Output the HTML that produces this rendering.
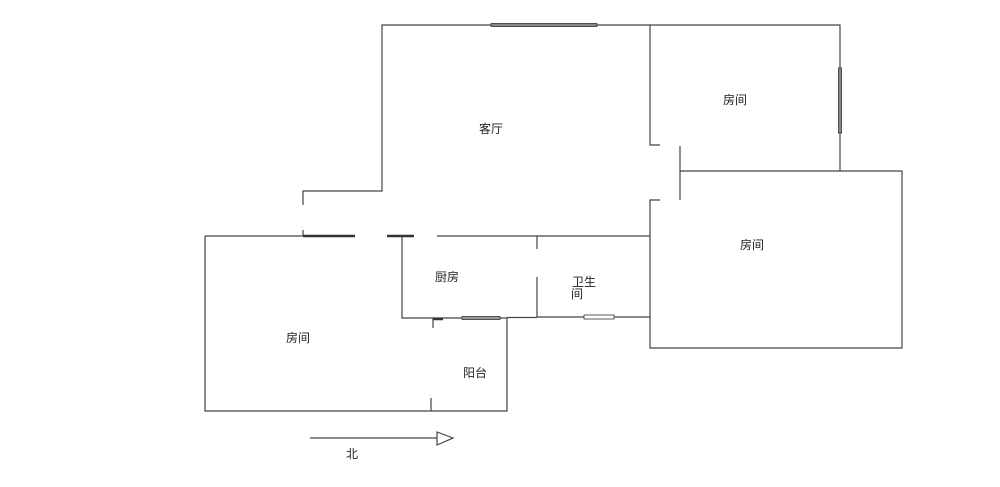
<!DOCTYPE html>
<html><head><meta charset="utf-8"><style>
body{margin:0;background:#fff;width:1000px;height:482px;overflow:hidden}
svg text{font-family:"Liberation Sans","Noto Sans CJK SC",sans-serif;font-size:12px;fill:#222}
</style></head><body>
<svg width="1000" height="482" viewBox="0 0 1000 482">
<g stroke="#444" stroke-width="1.2" fill="none">
<polyline points="303,205 303,191 382,191 382,25 840,25 840,171"/>
<polyline points="650,25 650,145 660,145"/>
<polyline points="680,146 680,200"/>
<polyline points="680,171 902,171 902,348 650,348 650,200 660,200"/>
<line x1="303" y1="230" x2="303" y2="236"/>
<line x1="205" y1="236" x2="303" y2="236"/>
<line x1="437" y1="236" x2="650" y2="236"/>
<polyline points="205,236 205,411 507,411 507,318 402,318 402,236"/>
<line x1="507" y1="317.5" x2="537" y2="317.5"/>
<line x1="431" y1="398" x2="431" y2="411"/>
<line x1="433" y1="318" x2="433" y2="328"/>
<line x1="537" y1="236" x2="537" y2="249"/>
<line x1="537" y1="277" x2="537" y2="317"/>
<line x1="537" y1="317" x2="650" y2="317"/>
<line x1="310" y1="438" x2="437" y2="438"/>
<polygon points="437,432 453,438 437,445"/>
</g>
<g stroke="#333" stroke-width="2.5">
<line x1="303" y1="236" x2="355" y2="236"/>
<line x1="387" y1="236" x2="414" y2="236"/>
<line x1="433" y1="319" x2="443" y2="319"/>
</g>
<rect x="491" y="23.5" width="106" height="3" fill="#888" stroke="#333" stroke-width="0.8"/>
<rect x="838.5" y="68" width="3" height="65" fill="#888" stroke="#333" stroke-width="0.8"/>
<rect x="462" y="316.5" width="38" height="3" fill="#999" stroke="#333" stroke-width="0.8"/>
<rect x="584" y="315" width="30" height="4" fill="#fff" stroke="#333" stroke-width="0.8"/>
<text x="479" y="133">客厅</text>
<text x="723" y="104">房间</text>
<text x="740" y="249">房间</text>
<text x="435" y="281">厨房</text>
<text x="572" y="286">卫生</text>
<text x="571" y="298">间</text>
<text x="286" y="342">房间</text>
<text x="463" y="377">阳台</text>
<text x="346" y="458">北</text>
</svg>
</body></html>
